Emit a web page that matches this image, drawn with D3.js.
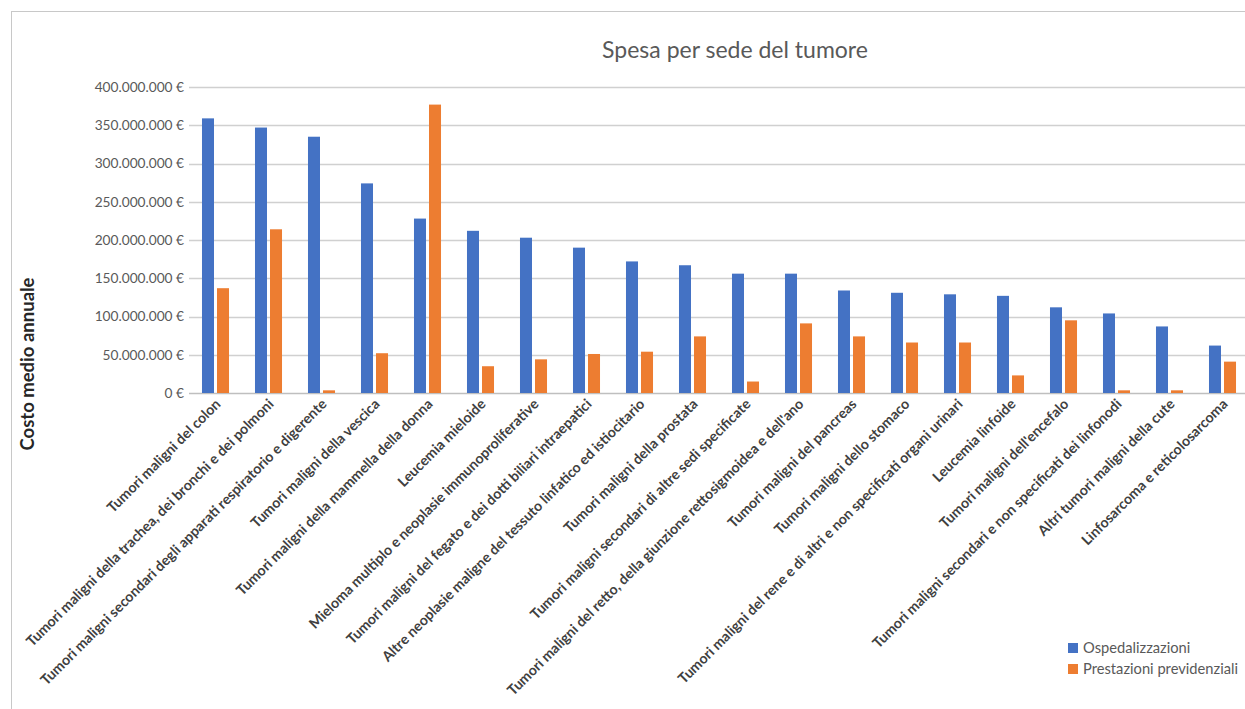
<!DOCTYPE html>
<html>
<head>
<meta charset="utf-8">
<script src="https://cdn.jsdelivr.net/npm/d3@7/dist/d3.min.js"></script>
<style>
  body { margin: 0; background: #fff; }
  text { font-family: Lato, 'Open Sans', sans-serif; }
</style>
</head>
<body>
<div id="chart"></div>
<script>
// categories, in chart order
const categories = [
  'Tumori maligni del colon',
  'Tumori maligni della trachea, dei bronchi e dei polmoni',
  'Tumori maligni secondari degli apparati respiratorio e digerente',
  'Tumori maligni della vescica',
  'Tumori maligni della mammella della donna',
  'Leucemia mieloide',
  'Mieloma multiplo e neoplasie immunoproliferative',
  'Tumori maligni del fegato e dei dotti biliari intraepatici',
  'Altre neoplasie maligne del tessuto linfatico ed istiocitario',
  'Tumori maligni della prostata',
  'Tumori maligni secondari di altre sedi specificate',
  "Tumori maligni del retto, della giunzione rettosigmoidea e dell'ano",
  'Tumori maligni del pancreas',
  'Tumori maligni dello stomaco',
  'Tumori maligni del rene e di altri e non specificati organi urinari',
  'Leucemia linfoide',
  "Tumori maligni dell'encefalo",
  'Tumori maligni secondari e non specificati dei linfonodi',
  'Altri tumori maligni della cute',
  'Linfosarcoma e reticolosarcoma'
]

const seriesNames = ['Ospedalizzazioni', 'Prestazioni previdenziali']

// values in euro
const ospedalizzazioni = [
  359e6, 347e6, 335e6, 274e6, 228e6, 212e6, 203e6, 190e6, 172e6, 167e6,
  156e6, 156e6, 134e6, 131e6, 129e6, 127e6, 112e6, 104e6, 87e6, 62e6
]
const prestazioni = [
  137e6, 214e6, 3.5e6, 52e6, 377e6, 35e6, 44e6, 51e6, 54e6, 74e6,
  15e6, 91e6, 74e6, 66e6, 66e6, 23e6, 95e6, 3.5e6, 3.5e6, 41e6
]

const yTicks = [0, 50e6, 100e6, 150e6, 200e6, 250e6, 300e6, 350e6, 400e6]

const colours = ['#4472C4', '#ED7D31']

const width = 1245
const height = 709

const it = d3.formatLocale({ decimal: ',', thousands: '.', grouping: [3], currency: ['', ' €'] })
const fmt = it.format('$,.0f')

const rows = categories.map((c, i) => ({ cat: c, values: [ospedalizzazioni[i], prestazioni[i]] }))

const svg = d3.select('#chart').append('svg')
  .attr('width', width)
  .attr('height', height)

// chart frame
svg.append('rect')
  .attr('x', 11.5)
  .attr('y', 11.5)
  .attr('width', width + 20)
  .attr('height', height + 20)
  .attr('fill', 'none')
  .attr('stroke', '#c8c8c8')

const x0 = d3.scaleBand()
  .domain(categories)
  .range([189, 1249])
  .paddingInner(0.49)
  .paddingOuter(0.245)

const x1 = d3.scaleBand()
  .domain([0, 1])
  .range([0, x0.bandwidth()])
  .paddingInner(0.2)

const y = d3.scaleLinear()
  .domain([0, 400e6])
  .range([393, 87])

// gridlines
svg.append('g')
  .selectAll('line')
  .data(yTicks)
  .join('line')
  .attr('x1', 189)
  .attr('x2', width)
  .attr('y1', d => Math.round(y(d)) + 0.5)
  .attr('y2', d => Math.round(y(d)) + 0.5)
  .attr('stroke', d => d === 0 ? '#bfbfbf' : '#d0d0d0')
  .attr('stroke-width', 1.3)

// y tick labels
svg.append('g')
  .selectAll('text')
  .data(yTicks)
  .join('text')
  .attr('x', 184)
  .attr('y', d => y(d))
  .attr('dy', '0.35em')
  .attr('text-anchor', 'end')
  .attr('fill', '#595959')
  .style('font-size', '13.7px')
  .text(d => fmt(d))

// bars
const groups = svg.append('g')
  .selectAll('g')
  .data(rows)
  .join('g')
  .attr('transform', d => 'translate(' + x0(d.cat) + ',0)')

groups.selectAll('rect')
  .data(d => d.values.map((v, k) => ({ k: k, v: v })))
  .join('rect')
  .attr('x', d => x1(d.k))
  .attr('width', x1.bandwidth())
  .attr('y', d => y(d.v))
  .attr('height', d => y(0) - y(d.v))
  .attr('fill', d => colours[d.k])

// category labels, rotated
svg.append('g')
  .selectAll('text')
  .data(categories)
  .join('text')
  .attr('transform', d => 'translate(' + (x0(d) + x0.bandwidth() / 2 + 6) + ',405) rotate(-45)')
  .attr('text-anchor', 'end')
  .attr('fill', '#404040')
  .style('font-size', '14.2px')
  .style('font-weight', 'bold')
  .text(d => d)

// title
svg.append('text')
  .attr('x', 735)
  .attr('y', 58)
  .attr('text-anchor', 'middle')
  .attr('fill', '#595959')
  .style('font-size', '23px')
  .text('Spesa per sede del tumore')

// y axis title
svg.append('text')
  .attr('transform', 'translate(34,364) rotate(-90)')
  .attr('text-anchor', 'middle')
  .attr('fill', '#262626')
  .style('font-size', '18.5px')
  .style('font-weight', 'bold')
  .text('Costo medio annuale')

// legend
const legend = svg.append('g')
  .selectAll('g')
  .data(seriesNames)
  .join('g')
  .attr('transform', (d, i) => 'translate(1068,' + (643 + i * 21) + ')')

legend.append('rect')
  .attr('width', 10)
  .attr('height', 10)
  .attr('fill', (d, i) => colours[i])

legend.append('text')
  .attr('x', 15)
  .attr('y', 5)
  .attr('dy', '0.35em')
  .attr('fill', '#595959')
  .style('font-size', '14.7px')
  .text(d => d)
</script>
</body>
</html>
